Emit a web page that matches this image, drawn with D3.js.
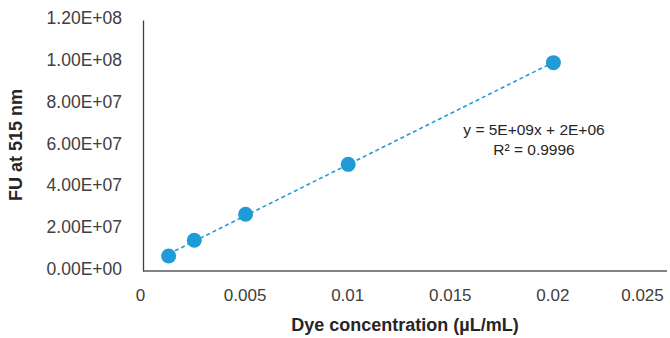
<!DOCTYPE html>
<html>
<head>
<meta charset="utf-8">
<script src="https://cdn.jsdelivr.net/npm/d3@7"></script>
<style>
  body { margin: 0; background: #fff; }
  svg { display: block; font-family: "Liberation Sans", Arial, sans-serif; }
  .tick text { fill: #404040; font-size: 17px; }
</style>
</head>
<body>
<script>
"use strict";

// dye concentration (uL/mL) and fluorescence units at 515 nm
const concentration = [0.00125, 0.0025, 0.005, 0.01, 0.02];
const fluorescence = [7.2e6, 14.7e6, 27.1e6, 51.0e6, 99.6e6];
const xTicks = [0, 0.005, 0.01, 0.015, 0.02, 0.025];
const yTicks = [0, 2e7, 4e7, 6e7, 8e7, 1e8, 1.2e8];
const equationLines = ["y = 5E+09x + 2E+06", "R² = 0.9996"];

const width = 670, height = 338;
const margin = {top: 20, right: 14, bottom: 67, left: 143};
const blue = "#1f9bd7";

const svg = d3.select("body").append("svg")
    .attr("width", width)
    .attr("height", height);

const x = d3.scaleLinear().domain([0, 0.025]).range([margin.left, 656]);
const y = d3.scaleLinear().domain([0, 1.2e8]).range([height - margin.bottom, margin.top]);

// excel style scientific labels, e.g. 1.20E+08
function sci(v) {
  let s = v.toExponential(2).toUpperCase();
  return s.replace(/E([+-])(\d)$/, "E$10$2");
}

// y axis
let yAxis = svg.append("g")
    .attr("transform", "translate(" + margin.left + ",0)")
    .call(d3.axisLeft(y).tickValues(yTicks).tickFormat(sci).tickSize(0).tickPadding(21));
yAxis.select(".domain").attr("stroke", "#404040").attr("stroke-width", 1.3);
yAxis.selectAll(".tick text").attr("dy", "0.2em").style("font-size", "17.5px");

// x axis
let xAxis = svg.append("g")
    .attr("transform", "translate(0," + y(0) + ")")
    .call(d3.axisBottom(x).tickValues(xTicks).tickFormat(d => d3.format("")(d)).tickSize(0).tickPadding(18));
xAxis.select(".domain").remove();
xAxis.selectAll(".tick text")
    .attr("dx", d => d === 0.025 ? "-14px" : d === 0 ? "-3px" : "-1px");
svg.append("line")
    .attr("x1", margin.left).attr("x2", width - 3)
    .attr("y1", y(0)).attr("y2", y(0))
    .attr("stroke", "#595959").attr("stroke-width", 1.5);

// linear trendline by least squares
const mx = d3.mean(concentration), my = d3.mean(fluorescence);
const slope = d3.sum(concentration, (c, i) => (c - mx) * (fluorescence[i] - my)) /
              d3.sum(concentration, c => (c - mx) * (c - mx));
const intercept = my - slope * mx;
const ext = d3.extent(concentration);
svg.append("path")
    .datum(ext)
    .attr("d", d3.line().x(d => x(d)).y(d => y(intercept + slope * d)))
    .attr("fill", "none")
    .attr("stroke", blue)
    .attr("stroke-width", 1.6)
    .attr("stroke-dasharray", "4,3");

// data points
svg.append("g").selectAll("circle")
    .data(concentration)
    .enter().append("circle")
    .attr("cx", d => x(d))
    .attr("cy", (d, i) => y(fluorescence[i]))
    .attr("r", 7.5)
    .attr("fill", blue);

// equation label
svg.append("g").selectAll("text")
    .data(equationLines)
    .enter().append("text")
    .attr("x", 534)
    .attr("y", (d, i) => 135 + i * 20)
    .attr("text-anchor", "middle")
    .attr("fill", "#262626")
    .attr("font-size", "15.5px")
    .text(d => d);

// axis titles
svg.append("text")
    .attr("x", 405).attr("y", 331)
    .attr("text-anchor", "middle")
    .attr("font-size", "18px").attr("font-weight", "bold")
    .attr("fill", "#262626")
    .text("Dye concentration (µL/mL)");

svg.append("text")
    .attr("transform", "translate(22,145) rotate(-90)")
    .attr("text-anchor", "middle")
    .attr("font-size", "18px").attr("font-weight", "bold")
    .attr("fill", "#262626")
    .text("FU at 515 nm");
</script>
</body>
</html>
